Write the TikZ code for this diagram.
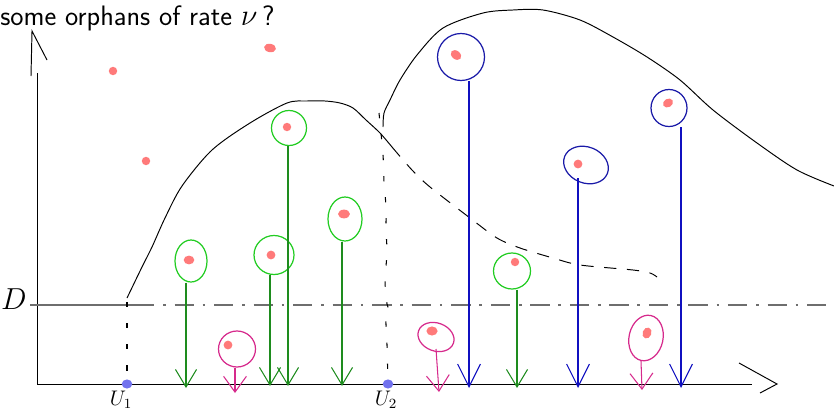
\documentclass[tikz,border=0pt]{standalone}
\usepackage{tikz}
\usetikzlibrary{shapes.geometric, arrows.meta}
\definecolor{ballgreen}{HTML}{22CC22}
\definecolor{stemgreen}{HTML}{1E8C1E}
\definecolor{ballblue}{HTML}{1A1AA8}
\definecolor{stemblue}{HTML}{1010C0}
\definecolor{mymagenta}{HTML}{D62A8C}
\definecolor{orphanred}{HTML}{FF7A7A}
\definecolor{axisdot}{HTML}{7272EE}
\definecolor{levelgray}{HTML}{6E6E6E}
\tikzset{
	ball/.style 2 args={ellipse, inner sep=0pt, line width=0.7pt,
			minimum width=#1*0.02cm, minimum height=#2*0.02cm}
}
\tikzset{
	greenball/.style={ball={#1}, draw=ballgreen},
	blueball/.style={ball={#1}, draw=ballblue},
	magball/.style={ball={#1}, draw=mymagenta}
}
\tikzset{
	greenfall/.style={draw=stemgreen, line width=0.6pt, -{Straight Barb[length=10pt, width=12pt]}},
	bluefall/.style={draw=stemblue, line width=0.6pt, -{Straight Barb[length=13pt, width=13pt]}},
	magfall/.style={draw=mymagenta, line width=0.6pt, -{Straight Barb[length=9pt, width=13pt]}}
}
\tikzset{
	orphandot/.style={fill=orphanred},
	levelline/.style={draw=levelgray, line width=0.9pt},
	hand/.style={line width=0.55pt},
	handdash/.style={line width=0.6pt, dash pattern=on 3pt off 9pt}
}

\begin{document}
\begin{tikzpicture}[x=0.02cm, y=-0.02cm]
\useasboundingbox (0,0) rectangle (834,409);

\node[anchor=base west, inner sep=0pt, font=\sffamily\fontsize{16}{19}\selectfont] (title) at (0,25) {some orphans of rate $\nu$\,?};

% axes
\coordinate (origin) at (37,384);
\coordinate (ytop) at (37,73);
\coordinate (xend) at (752,384);
\draw[hand] (origin) -- (ytop);
\draw[hand] (origin) -- (xend);
\draw[hand] (31,76) -- (32,31) -- (47,60);
\draw[hand] (739,363) -- (777,384) -- (760,393);

% level D
\node (dlab) at (14,299) {\fontsize{16}{16}\selectfont$D$};
\draw[levelline] (30,305) -- (135,305);
\draw[levelline, dash pattern=on 11pt off 5pt on 1.5pt off 5pt] (135,305) -- (834,305);

% the two curves
\draw[hand] plot[smooth, tension=0.5] coordinates {(127,298) (142,267) (152,247) (165,218) (182,186) (212,150) (250,123) (287,103) (307,101) (325,101) (340,103) (353,108) (366,120) (380,133) (392,147)};
\draw[hand, dash pattern=on 7pt off 6pt] plot[smooth, tension=0.5] coordinates {(392,147) (412,170) (430,187) (470,218) (497,238) (520,248) (553,258) (580,265) (633,270) (650,273) (657,277)};
\draw[hand] plot[smooth, tension=0.5] coordinates {(383,127) (384,113) (390,100) (400,80) (417,55) (443,28) (483,13) (513,10) (543,10) (580,20) (613,37) (647,57) (680,80) (713,110) (757,143) (797,170) (834,186)};

% the times U_1, U_2
\coordinate (uA) at (127,384);
\coordinate (uB) at (388,384);
\draw[handdash] (127,302) -- (uA);
\draw[handdash] plot[smooth, tension=0.5] coordinates {(379,113) (383,155) (384,182) (386,207) (386,230) (387,253) (385,280) (387,304) (390,311) (386,318) (387,345) (uB)};
\fill[axisdot] (uA) circle[x radius=3pt, y radius=2.6pt];
\fill[axisdot] (uB) circle[x radius=3pt, y radius=2.6pt];
\node[anchor=north] (uAlab) at (121,385) {\large$U_1$};
\node[anchor=north] (uBlab) at (386,385) {\large$U_2$};

% orphans outside
\fill[orphandot] (113,71) circle[radius=2.4pt];
\fill[orphandot] (146,161) circle[radius=2.4pt];
\fill[orphandot, rotate around={-10:(270,48)}] (270,48) ellipse[x radius=3.4pt, y radius=2.4pt];

% green ones
\node[greenball={32}{42}] (gA) at (191,261) {};
\node[greenball={35}{35}] (gB) at (289,128) {};
\node[greenball={40}{39}] (gC) at (274,255) {};
\node[greenball={34}{44}] (gD) at (345,219) {};
\node[greenball={37}{36}] (gE) at (512,271) {};
\coordinate (gAend) at (186,388);
\coordinate (gBend) at (288,386);
\coordinate (gCend) at (270,386);
\coordinate (gDend) at (342,386);
\coordinate (gEend) at (517,388);
\draw[greenfall] (gA.south -| gAend) -- (gAend);
\draw[greenfall] (gB.south -| gBend) -- (gBend);
\draw[greenfall] (gC.south -| gCend) -- (gCend);
\draw[greenfall] (gD.south -| gDend) -- (gDend);
\draw[greenfall] (gE.south -| gEend) -- (gEend);
\fill[orphandot] (189,260) ellipse[x radius=3pt, y radius=2.5pt];
\fill[orphandot] (287,127) circle[radius=2.4pt];
\fill[orphandot] (271,255) circle[radius=2.5pt];
\fill[orphandot] (344,214) ellipse[x radius=3.4pt, y radius=2.5pt];
\fill[orphandot] (515,262) circle[radius=2.4pt];

% blue ones
\node[blueball={47}{47}] (bA) at (461,57) {};
\node[blueball={46}{36}, rotate=-22] (bB) at (586,165) {};
\node[blueball={36}{37}] (bC) at (669,108) {};
\coordinate (bAend) at (469,388);
\coordinate (bBend) at (578,388);
\coordinate (bCend) at (681,388);
\draw[bluefall] (bA.south -| bAend) -- (bAend);
\draw[bluefall] (578,178) -- (bBend);
\draw[bluefall] (bC.south -| bCend) -- (bCend);
\fill[orphandot, rotate around={-40:(456,55)}] (456,55) ellipse[x radius=3.3pt, y radius=2.4pt];
\fill[orphandot] (578,164) circle[radius=2.5pt];
\fill[orphandot, rotate around={30:(668,103)}] (668,103) ellipse[x radius=3pt, y radius=2.4pt];

% magenta ones
\node[magball={37}{36}] (mA) at (237,349) {};
\node[magball={37}{28}, rotate=-20] (mB) at (436,337) {};
\node[magball={34}{46}, rotate=-12] (mC) at (646,338) {};
\coordinate (mAend) at (235,393);
\coordinate (mBend) at (439,392);
\coordinate (mCend) at (642,390);
\draw[magfall] (mA.south -| mAend) -- (mAend);
\draw[magfall] (436,349) -- (mBend);
\draw[magfall] (641,361) -- (mCend);
\fill[orphandot] (228,345) circle[radius=2.5pt];
\fill[orphandot] (432,331) ellipse[x radius=3.2pt, y radius=2.6pt];
\fill[orphandot, rotate around={70:(647,333)}] (647,333) ellipse[x radius=3.2pt, y radius=2.5pt];

\end{tikzpicture}
\end{document}
